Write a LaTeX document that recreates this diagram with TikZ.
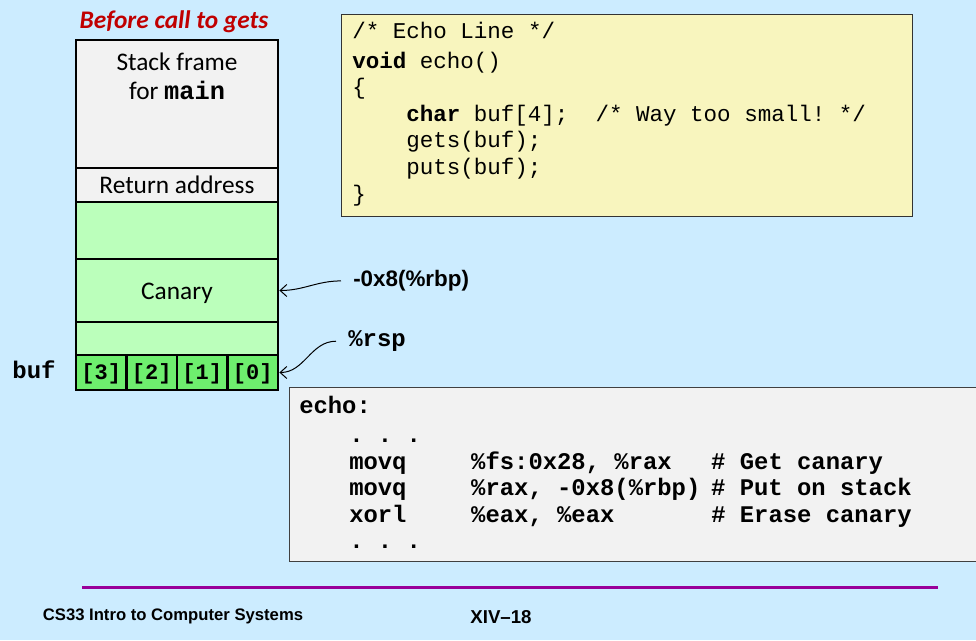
\documentclass[tikz,border=0pt]{standalone}
\usepackage{fontspec}
\usepackage{tikz}
\usetikzlibrary{arrows.meta}

\setmainfont{Carlito}
\setmonofont{Liberation Mono}
\newfontfamily\arialfont{Liberation Sans}

\definecolor{slidebg}{HTML}{CCECFF}
\definecolor{framegray}{HTML}{F2F2F2}
\definecolor{slotgreen}{HTML}{BBFFBB}
\definecolor{bufgreen}{HTML}{6EEE6E}
\definecolor{srcyellow}{HTML}{F8F5BE}
\definecolor{asmgray}{HTML}{F2F2F2}
\definecolor{titlered}{HTML}{C00000}
\definecolor{rulepurple}{HTML}{990099}

\newcommand{\codeind}{\hspace*{40.5pt}}
\newcommand{\asmind}{\hspace*{37.5pt}}
\newcommand{\asmline}[3]{\asmind\makebox[91.5pt][l]{#1}\makebox[180pt][l]{#2}#3}

\tikzset{
  cell/.style = {draw, line width=2.1pt, minimum width=151.5pt, inner sep=0pt,
    text height=12.75pt, text depth=0pt, font=\fontsize{19}{22}\selectfont},
  bufcell/.style = {draw, line width=2.1pt, fill=bufgreen, minimum width=37.875pt,
    minimum height=26.25pt, inner sep=0pt, text height=10.5pt, text depth=0pt,
    font=\ttfamily\bfseries\fontsize{16.5}{18}\selectfont},
  celltext/.style = {inner sep=0pt, anchor=base, font=\fontsize{19}{22}\selectfont},
  lbl/.style = {inner xsep=9pt, inner ysep=1pt, anchor=base west},
  ptr/.style = {-{Straight Barb[length=5pt,width=9pt]}, line width=0.75pt},
  footer/.style = {inner sep=0pt, anchor=base, font=\arialfont\bfseries\fontsize{12.5}{14}\selectfont}
}

\begin{document}
\begin{tikzpicture}[x=0.75pt, y=-0.75pt]
  \useasboundingbox (0,0) rectangle (976,640);
  \fill[slidebg] (0,0) rectangle (976,640);

  % stack before gets
  \node[celltext, font=\bfseries\itshape\fontsize{19}{22}\selectfont, text=titlered] (title) at (174,28) {Before call to gets};
  \node[cell, fill=framegray, minimum height=96pt] (frame) at (177,104) {};
  \node[celltext] (framel1) at (177,70) {Stack frame};
  \node[celltext] (framel2) at (177,99) {for \texttt{\bfseries main}};
  \node[cell, fill=framegray, minimum height=25.5pt] (ret) at (177,185) {Return address};
  \node[cell, fill=slotgreen, minimum height=42.75pt] (pad1) at (177,230.5) {};
  \node[cell, fill=slotgreen, minimum height=47.25pt] (canary) at (177,290.5) {Canary};
  \node[cell, fill=slotgreen, minimum height=24.75pt] (pad2) at (177,338.5) {};
  \foreach \i/\x in {3/101.25, 2/151.75, 1/202.25, 0/252.75}
    \node[bufcell] (buf\i) at (\x,372.5) {[\i]};
  \node[celltext, font=\ttfamily\bfseries\fontsize{18}{20}\selectfont] (bufname) at (34,378) {buf};

  % pointers into the stack
  \node[lbl, font=\arialfont\bfseries\fontsize{16.8}{20}\selectfont] (rbp) at (341,286.7) {-0x8(\%rbp)};
  \node[lbl, font=\ttfamily\bfseries\fontsize{18}{20}\selectfont] (rsp) at (336,346.7) {\%rsp};
  \draw[ptr] (rbp.west) to[out=180, in=0] (canary.east);
  \draw[ptr] (rsp.west) to[out=180, in=0] (buf0.east);

  % C source
  \node[draw=black!80, line width=0.75pt, fill=srcyellow, minimum width=428.25pt,
    minimum height=151.8pt, inner sep=0pt] (srcbox) at (626.5,115.5) {};
  \node[anchor=north west, inner sep=0pt, align=left,
    font=\ttfamily\fontsize{16.9}{19.95}\selectfont] (src) at (352,22) {%
    /* Echo Line */\\[2.25pt]
    \textbf{void} echo()\\
    \{\\
    \codeind\textbf{char} buf[4];\ \ /* Way too small! */\\
    \codeind gets(buf);\\
    \codeind puts(buf);\\
    \}};

  % assembly
  \node[draw=black!75, line width=1.1pt, fill=asmgray, minimum width=518pt,
    minimum height=130.35pt, inner sep=0pt] (asmbox) at (634.6,474.6) {};
  \node[anchor=north west, inner sep=0pt, align=left,
    font=\ttfamily\bfseries\fontsize{17.9}{19.9}\selectfont] (asm) at (299,396) {%
    echo:\\[1.9pt]
    \asmind . . .\\
    \asmline{movq}{\%fs:0x28, \%rax}{\# Get canary}\\
    \asmline{movq}{\%rax, -0x8(\%rbp)}{\# Put on stack}\\
    \asmline{xorl}{\%eax, \%eax}{\# Erase canary}\\
    \asmind . . .};

  % footer
  \draw[rulepurple, line width=2pt] (82,587.5) -- (938,587.5);
  \node[footer] (course) at (173,620) {CS33 Intro to Computer Systems};
  \node[footer, font=\arialfont\bfseries\fontsize{14}{16}\selectfont] (slideno) at (501,623) {XIV–18};
\end{tikzpicture}
\end{document}
